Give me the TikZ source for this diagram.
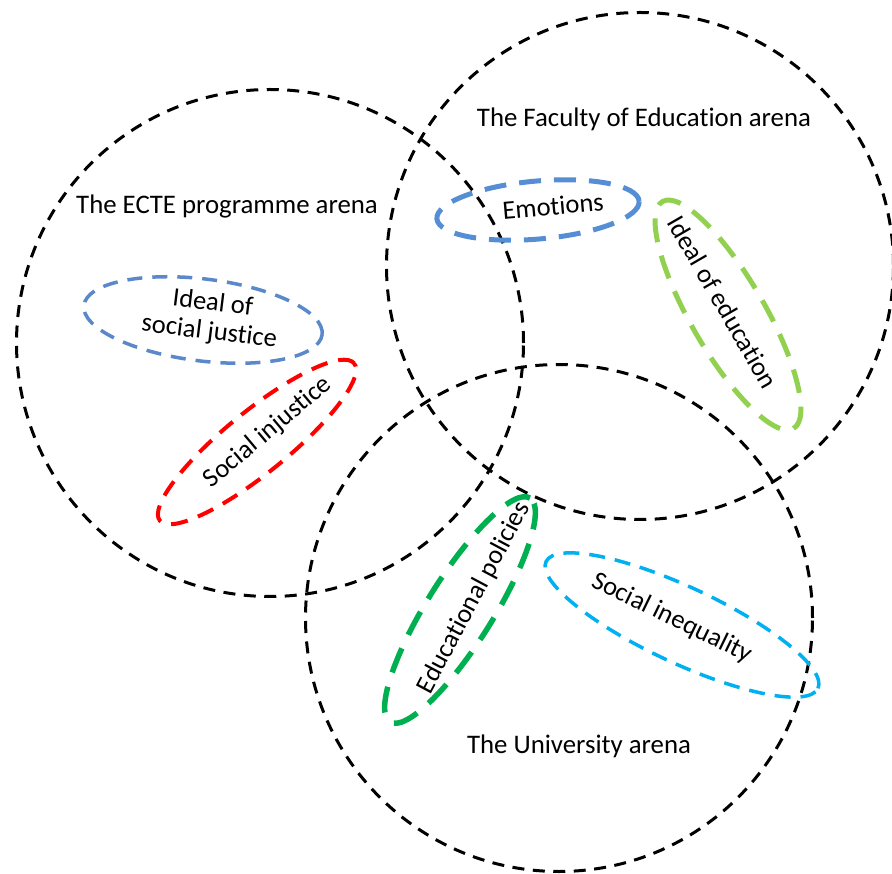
\documentclass[tikz,border=0pt]{standalone}
\usepackage{fontspec}
\setmainfont{Carlito}[Ligatures={NoCommon}]
\usetikzlibrary{shapes.geometric}
\definecolor{blueA}{HTML}{558ED5}
\definecolor{blueB}{HTML}{5A88C8}
\definecolor{greenL}{HTML}{92D050}
\definecolor{greenD}{HTML}{00B050}
\definecolor{cyanC}{HTML}{00B0F0}
\begin{document}
\begin{tikzpicture}[x=1pt,y=-1pt,
  arena/.style={draw=black,line width=3pt,dash pattern=on 12pt off 8.5pt,circle,minimum size=507pt,inner sep=0pt},
  oval/.style={ellipse,inner sep=0pt},
  txt/.style={font=\fontsize{26.5}{29}\selectfont,inner sep=0pt,align=center},
  lbl/.style={font=\fontsize{26.8}{29}\selectfont,inner sep=0pt}]
\useasboundingbox (0,0) rectangle (892,874);
\node[arena] (ecte) at (270,343) {};
\node[arena] (fac) at (640,266) {};
\node[arena] (uni) at (559,618) {};
\node[lbl] (lecte) at (227,207) {The ECTE programme arena};
\node[lbl] (lfac) at (644,119) {The Faculty of Education arena};
\node[lbl] (luni) at (579,746) {The University arena};
\node[oval,draw=blueA,line width=5pt,dash pattern=on 22pt off 13pt,minimum width=203pt,minimum height=58pt,rotate=5] (emo) at (538,210) {};
\node[txt,rotate=5] (temo) at (553,206) {Emotions};
\node[oval,draw=greenL,line width=5pt,dash pattern=on 24pt off 14pt,minimum width=262pt,minimum height=74pt,rotate=-60] (ide) at (728,315) {};
\node[txt,rotate=-60] (tide) at (723,302) {Ideal of education};
\node[oval,draw=blueB,line width=3.5pt,dash pattern=on 15pt off 10pt,minimum width=240pt,minimum height=82pt,rotate=-7] (isj) at (203,320) {};
\node[txt,rotate=-7] (tisj) at (211,318) {Ideal of\\social justice};
\node[oval,draw=red,line width=4pt,dash pattern=on 17pt off 11pt,minimum width=250pt,minimum height=62pt,rotate=39] (sinj) at (257,442) {};
\node[txt,rotate=40] (tsinj) at (268,432) {Social injustice};
\node[oval,draw=greenD,line width=5.5pt,dash pattern=on 26pt off 15pt,minimum width=264pt,minimum height=66pt,rotate=58] (edu) at (460,610) {};
\node[txt,rotate=62] (tedu) at (474,598) {Educational policies};
\node[oval,draw=cyanC,line width=3.5pt,dash pattern=on 16pt off 10pt,minimum width=300pt,minimum height=76pt,rotate=-25] (sineq) at (682,625) {};
\node[txt,rotate=-26] (tsineq) at (672,618) {Social inequality};
\end{tikzpicture}
\end{document}
